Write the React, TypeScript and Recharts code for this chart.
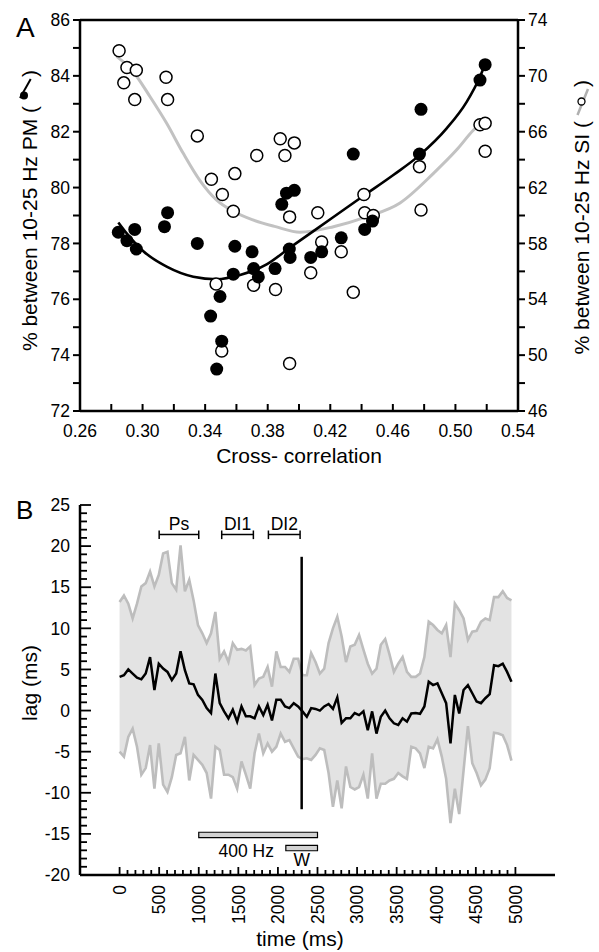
import React from 'react';
import {
  ComposedChart,
  XAxis,
  YAxis,
  Line,
  Scatter,
  Area,
  ReferenceLine,
  ReferenceArea,
  ReferenceDot,
} from 'recharts';

const FONT = '"Liberation Sans", Arial, Helvetica, sans-serif';

// ---------------- Panel A data ----------------
// PM (filled circles, left axis)
const pmCorr = [0.2845, 0.29, 0.295, 0.296, 0.314, 0.316, 0.335, 0.359, 0.358, 0.37, 0.371, 0.374, 0.3435, 0.3495, 0.3506, 0.3474, 0.3847, 0.389, 0.392, 0.397, 0.3938, 0.3943, 0.4075, 0.4145, 0.427, 0.442, 0.447, 0.478, 0.4347, 0.477, 0.5157, 0.519];
const pmPct = [78.4, 78.1, 78.5, 77.8, 78.6, 79.1, 78.0, 77.9, 76.9, 77.7, 77.1, 76.8, 75.4, 76.1, 74.5, 73.5, 77.1, 79.4, 79.8, 79.9, 77.8, 77.5, 77.5, 77.7, 78.2, 78.5, 78.8, 82.8, 81.2, 81.2, 83.85, 84.4];
// SI (open circles, right axis)
const siCorr = [0.285, 0.29, 0.296, 0.288, 0.295, 0.315, 0.316, 0.335, 0.344, 0.351, 0.359, 0.358, 0.373, 0.388, 0.391, 0.397, 0.394, 0.347, 0.3506, 0.371, 0.385, 0.394, 0.412, 0.4145, 0.4075, 0.427, 0.4347, 0.442, 0.4475, 0.478, 0.477, 0.4415, 0.5157, 0.519, 0.519];
const siPct = [71.8, 70.6, 70.4, 69.5, 68.3, 69.9, 68.3, 65.7, 62.6, 61.5, 63.0, 60.3, 64.3, 65.5, 64.3, 65.2, 59.9, 55.1, 50.3, 55.0, 54.7, 49.4, 60.2, 58.1, 55.9, 57.4, 54.5, 60.2, 60.0, 60.4, 63.5, 61.5, 66.5, 66.6, 64.6];
// fitted curves
const pmFitCorr = [0.2845, 0.29, 0.3005, 0.3154, 0.3324, 0.3474, 0.3623, 0.3793, 0.3942, 0.4209, 0.4411, 0.4603, 0.4773, 0.4944, 0.5072, 0.5157, 0.52];
const pmFitPct = [78.75, 78.35, 77.72, 77.17, 76.81, 76.72, 76.87, 77.25, 77.85, 78.9, 79.7, 80.45, 81.17, 82.12, 83.07, 83.97, 84.57];
const siFitCorr = [0.2834, 0.294, 0.3048, 0.3154, 0.326, 0.3367, 0.3474, 0.358, 0.37, 0.385, 0.4006, 0.422, 0.4432, 0.4646, 0.4858, 0.5008, 0.5114, 0.517];
const siFitPct = [71.4, 70.3, 68.5, 66.6, 64.45, 62.5, 61.1, 60.3, 59.7, 59.2, 58.8, 59.2, 59.9, 60.9, 63.0, 64.7, 66.1, 66.7];

const xTicksA = [0.26, 0.28, 0.3, 0.32, 0.34, 0.36, 0.38, 0.4, 0.42, 0.44, 0.46, 0.48, 0.5, 0.52, 0.54];
const yTicksLeftA = [72, 73, 74, 75, 76, 77, 78, 79, 80, 81, 82, 83, 84, 85, 86];
const yTicksRightA = [46, 48, 50, 52, 54, 56, 58, 60, 62, 64, 66, 68, 70, 72, 74];

// ---------------- Panel B data ----------------
const timeMs = [0, 55, 110, 165, 220, 275, 330, 385, 440, 495, 550, 605, 660, 715, 770, 825, 880, 935, 990, 1045, 1100, 1155, 1210, 1265, 1320, 1375, 1430, 1485, 1540, 1595, 1650, 1705, 1760, 1815, 1870, 1925, 1980, 2035, 2090, 2145, 2200, 2255, 2310, 2365, 2420, 2475, 2530, 2585, 2640, 2695, 2750, 2805, 2860, 2915, 2970, 3025, 3080, 3135, 3190, 3245, 3300, 3355, 3410, 3465, 3520, 3575, 3630, 3685, 3740, 3795, 3850, 3905, 3960, 4015, 4070, 4125, 4180, 4235, 4290, 4345, 4400, 4455, 4510, 4565, 4620, 4675, 4730, 4785, 4840, 4895, 4950];
const lagMean = [4.1, 4.3, 5.0, 4.5, 4.0, 3.8, 4.5, 6.5, 2.5, 5.7,
  5.1, 4.7, 3.7, 4.5, 7.2, 4.9, 3.3, 3.2, 1.9, 1.3,
  0.3, -0.3, 4.5, 0.9, -0.1, -0.95, 0.1, -1.35, 0.5, -0.7,
  -0.7, -0.95, 0.5, -0.55, 0.7, -1.2, 1.3, 1.3, 0.5, 0.3,
  0.9, 0.5, -0.1, -0.75, 0.3, 0.2, 0.0, 0.5, 0.8, 0.2,
  1.6, -1.5, -0.95, -0.95, -0.3, -0.55, -0.1, -2.4, -0.1, -2.8,
  -0.75, 0.0, -0.95, -1.55, -1.75, -0.95, -1.35, -0.35, -0.3, -0.4,
  0.5, 3.5, 3.1, 3.3, 2.1, 0.9, -4.0, 1.9, -0.35, 2.5,
  3.1, 2.1, 1.1, 0.9, 1.5, 2.0, 5.5, 5.4, 5.7, 4.7,
  3.5];
const lagUpper = [13.2, 14.0, 13.0, 11.2, 13.0, 15.1, 15.5, 16.9, 15.1, 16.5,
  19.1, 19.3, 15.5, 14.7, 20.1, 14.5, 15.9, 13.4, 10.4, 9.4,
  8.2, 9.4, 12.0, 6.3, 7.2, 5.9, 8.2, 7.4, 7.5, 7.3,
  7.8, 3.1, 3.9, 4.1, 5.3, 2.9, 7.2, 5.3, 5.3, 4.7,
  6.3, 6.3, 4.3, 4.3, 7.0, 5.9, 4.5, 5.1, 8.2, 10.0,
  11.4, 9.0, 5.9, 7.8, 8.0, 9.2, 7.4, 5.7, 4.5, 5.1,
  8.0, 8.7, 6.8, 4.7, 5.7, 6.5, 4.7, 4.1, 4.1, 4.5,
  6.5, 10.8, 10.4, 9.8, 9.4, 10.4, 6.5, 13.0, 12.2, 11.2,
  8.6, 9.6, 9.7, 10.8, 11.2, 11.0, 13.8, 13.8, 14.5, 13.7,
  13.4];
const lagLower = [-5.0, -5.6, -3.2, -2.2, -4.4, -7.8, -7.0, -4.2, -9.5, -4.0,
  -9.0, -9.9, -8.1, -5.4, -5.2, -3.2, -8.5, -5.4, -6.0, -6.6,
  -7.6, -10.7, -4.4, -4.8, -7.8, -7.8, -8.1, -9.5, -6.2, -7.8,
  -9.5, -5.2, -2.8, -5.2, -4.0, -5.0, -4.4, -2.8, -3.8, -3.6,
  -4.6, -5.6, -5.9, -5.8, -6.0, -5.4, -4.6, -4.8, -7.6, -11.7,
  -8.5, -11.9, -6.8, -9.3, -9.6, -9.3, -7.8, -10.7, -5.2, -10.7,
  -8.9, -8.9, -8.5, -8.3, -7.6, -8.0, -8.3, -4.4, -4.6, -5.2,
  -7.0, -4.4, -4.6, -3.5, -5.6, -8.3, -13.7, -9.5, -12.6, -7.3,
  -1.9, -6.4, -7.6, -9.1, -8.4, -7.0, -2.7, -2.8, -3.0, -4.2,
  -6.1];

const xMinorTicksB = Array.from({ length: 51 }, (_, i) => i * 100);
const yTicksB = Array.from({ length: 46 }, (_, i) => -20 + i);

// epoch markers (ms)
const brackets = [
  { name: 'Ps', from: 500, to: 1000 },
  { name: 'DI1', from: 1290, to: 1690 },
  { name: 'DI2', from: 1880, to: 2280 },
];
const bracketLevel = 21.4;
const stimulusTime = 2300;
const stimulusSpan = [-12, 18.7];
const bar400 = { from: 1000, to: 2500, lo: -15.45, hi: -14.8 };
const barW = { from: 2100, to: 2500, lo: -17.05, hi: -16.4 };

// ---------------- helpers ----------------
const pmPoints = pmCorr.map((x, i) => ({ x, y: pmPct[i] }));
const siPoints = siCorr.map((x, i) => ({ x, y: siPct[i] }));
const pmFit = pmFitCorr.map((x, i) => ({ x, y: pmFitPct[i] }));
const siFit = siFitCorr.map((x, i) => ({ x, y: siFitPct[i] }));
const lagData = timeMs.map((t, i) => ({
  t,
  mean: lagMean[i],
  hi: lagUpper[i],
  lo: lagLower[i],
  band: [lagLower[i], lagUpper[i]],
}));

const tickText = { fontSize: 17.5, fill: '#000', fontFamily: FONT };

function XTickA(p: any) {
  const { x, y, payload } = p;
  const v = payload.value as number;
  const lab = Math.round(v * 100) % 4 === 2;
  return (
    <g>
      <line x1={x} x2={x} y1={y} y2={y - 7} stroke="#000" strokeWidth={2} />
      {lab && (
        <text x={x} y={y + 25.5} textAnchor="middle" {...tickText}>
          {v.toFixed(2)}
        </text>
      )}
    </g>
  );
}
function YTickALeft(p: any) {
  const { x, y, payload } = p;
  const v = payload.value as number;
  const lab = v % 2 === 0;
  return (
    <g>
      <line x1={x} x2={x - 7} y1={y} y2={y} stroke="#000" strokeWidth={2} />
      {lab && (
        <text x={x - 10} y={y + 6.2} textAnchor="end" {...tickText}>
          {v}
        </text>
      )}
    </g>
  );
}
function YTickARight(p: any) {
  const { x, y, payload } = p;
  const v = payload.value as number;
  const lab = (v - 46) % 4 === 0;
  return (
    <g>
      <line x1={x} x2={x + 7} y1={y} y2={y} stroke="#000" strokeWidth={2} />
      {lab && (
        <text x={x + 10} y={y + 6.2} textAnchor="start" {...tickText}>
          {v}
        </text>
      )}
    </g>
  );
}
function XTickB(p: any) {
  const { x, y, payload } = p;
  const v = payload.value as number;
  const major = v % 500 === 0;
  const ty = y + 10;
  return (
    <g>
      <line x1={x} x2={x} y1={y} y2={y - (major ? 8 : 5)} stroke="#000" strokeWidth={1.8} />
      {major && (
        <text x={x} y={ty} transform={`rotate(-90 ${x} ${ty})`} textAnchor="end" dy="0.36em" {...tickText}>
          {v}
        </text>
      )}
    </g>
  );
}
function YTickB(p: any) {
  const { x, y, payload } = p;
  const v = payload.value as number;
  const major = v % 5 === 0;
  return (
    <g>
      <line x1={x} x2={x + (major ? 11 : 7)} y1={y} y2={y} stroke="#000" strokeWidth={1.8} />
      {major && (
        <text x={x - 10} y={y + 6.2} textAnchor="end" {...tickText}>
          {v}
        </text>
      )}
    </g>
  );
}

const filledDot = (p: any) => <circle cx={p.cx} cy={p.cy} r={6.5} fill="#000" />;
const openDot = (p: any) => <circle cx={p.cx} cy={p.cy} r={6} fill="#fff" stroke="#000" strokeWidth={1.5} />;

const labelStyle = { fontSize: 17.5, fill: '#000', fontFamily: FONT };

export default function App() {
  return (
    <div style={{ position: 'absolute', left: 0, top: 0, width: 599, height: 952, background: '#fff', fontFamily: FONT }}>
      <div style={{ position: 'absolute', left: 0, top: 0 }}>
        <ComposedChart width={599} height={480} margin={{ top: 20, right: 21, bottom: 29, left: 20 }}>
          <XAxis
            type="number"
            dataKey="x"
            domain={[0.26, 0.54]}
            allowDataOverflow
            ticks={xTicksA}
            interval={0}
            tick={XTickA}
            tickLine={false}
            tickSize={0}
            tickMargin={0}
            axisLine={{ stroke: '#000', strokeWidth: 2.5 }}
            height={40}
          />
          <YAxis
            yAxisId="l"
            type="number"
            dataKey="y"
            domain={[72, 86]}
            allowDataOverflow
            ticks={yTicksLeftA}
            interval={0}
            tick={YTickALeft}
            tickLine={false}
            tickSize={0}
            tickMargin={0}
            axisLine={{ stroke: '#000', strokeWidth: 2.5 }}
            width={60}
          />
          <YAxis
            yAxisId="r"
            orientation="right"
            type="number"
            dataKey="y"
            domain={[46, 74]}
            allowDataOverflow
            ticks={yTicksRightA}
            interval={0}
            tick={YTickARight}
            tickLine={false}
            tickSize={0}
            tickMargin={0}
            axisLine={{ stroke: '#000', strokeWidth: 2.5 }}
            width={60}
          />
          <ReferenceLine yAxisId="l" y={86} stroke="#000" strokeWidth={2.5} />
          <Line
            yAxisId="r"
            data={siFit}
            dataKey="y"
            type="monotone"
            stroke="#c2c2c2"
            strokeWidth={3}
            dot={false}
            activeDot={false}
            isAnimationActive={false}
          />
          <Line
            yAxisId="l"
            data={pmFit}
            dataKey="y"
            type="monotone"
            stroke="#000"
            strokeWidth={2.6}
            dot={false}
            activeDot={false}
            isAnimationActive={false}
          />
          <Scatter yAxisId="r" data={siPoints} dataKey="y" shape={openDot} isAnimationActive={false} />
          <Scatter yAxisId="l" data={pmPoints} dataKey="y" shape={filledDot} isAnimationActive={false} />
        </ComposedChart>
      </div>

      <div style={{ position: 'absolute', left: 0, top: 480 }}>
        <ComposedChart width={599} height={472} data={lagData} margin={{ top: 25, right: 44, bottom: 27, left: 20 }}>
          <XAxis
            type="number"
            dataKey="t"
            domain={[-500, 5500]}
            allowDataOverflow
            ticks={xMinorTicksB}
            interval={0}
            tick={XTickB}
            tickLine={false}
            tickSize={0}
            tickMargin={0}
            axisLine={{ stroke: '#000', strokeWidth: 2.5 }}
            height={50}
          />
          <YAxis
            type="number"
            domain={[-20, 25]}
            allowDataOverflow
            ticks={yTicksB}
            interval={0}
            tick={YTickB}
            tickLine={false}
            tickSize={0}
            tickMargin={0}
            axisLine={{ stroke: '#000', strokeWidth: 2.5 }}
            width={60}
          />
          <Area dataKey="band" type="linear" stroke="none" fill="#e3e3e3" fillOpacity={1} isAnimationActive={false} activeDot={false} />
          <Line dataKey="hi" type="linear" stroke="#bdbdbd" strokeWidth={2.6} dot={false} activeDot={false} isAnimationActive={false} />
          <Line dataKey="lo" type="linear" stroke="#bdbdbd" strokeWidth={2.6} dot={false} activeDot={false} isAnimationActive={false} />
          <Line dataKey="mean" type="linear" stroke="#000" strokeWidth={2.5} dot={false} activeDot={false} isAnimationActive={false} />
          <ReferenceLine
            segment={[{ x: stimulusTime, y: stimulusSpan[0] }, { x: stimulusTime, y: stimulusSpan[1] }]}
            stroke="#000"
            strokeWidth={2.5}
          />
          {brackets.map((b) => (
            <ReferenceLine
              key={b.name + 'h'}
              segment={[{ x: b.from, y: bracketLevel }, { x: b.to, y: bracketLevel }]}
              stroke="#000"
              strokeWidth={1.5}
            />
          ))}
          {brackets.map((b) => (
            <ReferenceLine
              key={b.name + 'l'}
              segment={[{ x: b.from, y: bracketLevel - 0.55 }, { x: b.from, y: bracketLevel + 0.5 }]}
              stroke="#000"
              strokeWidth={1.5}
            />
          ))}
          {brackets.map((b) => (
            <ReferenceLine
              key={b.name + 'r'}
              segment={[{ x: b.to, y: bracketLevel - 0.55 }, { x: b.to, y: bracketLevel + 0.5 }]}
              stroke="#000"
              strokeWidth={1.5}
            />
          ))}
          {brackets.map((b) => (
            <ReferenceDot
              key={b.name + 't'}
              x={(b.from + b.to) / 2}
              y={bracketLevel}
              r={0}
              fill="none"
              stroke="none"
              label={{ value: b.name, position: 'top', offset: 5, ...labelStyle }}
            />
          ))}
          <ReferenceArea
            x1={bar400.from}
            x2={bar400.to}
            y1={bar400.lo}
            y2={bar400.hi}
            fill="#d2d2d2"
            fillOpacity={1}
            stroke="#000"
            strokeWidth={1.2}
          />
          <ReferenceArea
            x1={barW.from}
            x2={barW.to}
            y1={barW.lo}
            y2={barW.hi}
            fill="#d2d2d2"
            fillOpacity={1}
            stroke="#000"
            strokeWidth={1.2}
          />
          <ReferenceDot
            x={1600}
            y={-17}
            r={0}
            fill="none"
            stroke="none"
            label={{ value: '400 Hz', position: 'center', ...labelStyle }}
          />
          <ReferenceDot
            x={2300}
            y={-18.1}
            r={0}
            fill="none"
            stroke="none"
            label={{ value: 'W', position: 'center', ...labelStyle }}
          />
        </ComposedChart>
      </div>

      <svg
        width={599}
        height={952}
        style={{ position: 'absolute', left: 0, top: 0, pointerEvents: 'none', fontFamily: FONT }}
      >
        <text x={16} y={36.5} fontSize={28} fill="#000">A</text>
        <text x={16} y={518.5} fontSize={26} fill="#000">B</text>

        <text x={299} y={463} fontSize={21} textAnchor="middle" fill="#000">Cross- correlation</text>

        {/* left axis title, panel A */}
        <text transform="translate(37,106) rotate(-90)" fontSize={21} textAnchor="end" fill="#000">% between 10-25 Hz PM (</text>
        <line x1={30.7} y1={79} x2={20} y2={98} stroke="#000" strokeWidth={2} />
        <circle cx={24} cy={95.5} r={4} fill="#000" />
        <text transform="translate(37,77) rotate(-90)" fontSize={21} textAnchor="start" fill="#000">)</text>

        {/* right axis title, panel A */}
        <text transform="translate(589,121) rotate(-90)" fontSize={21} textAnchor="end" fill="#000">% between 10-25 Hz SI (</text>
        <line x1={588} y1={89} x2={577.5} y2={115} stroke="#b0b0b0" strokeWidth={2.5} />
        <circle cx={581.5} cy={101.5} r={3.5} fill="#fff" stroke="#000" strokeWidth={1.3} />
        <text transform="translate(589,87) rotate(-90)" fontSize={21} textAnchor="start" fill="#000">)</text>

        <text transform="translate(37,683) rotate(-90)" fontSize={21} textAnchor="middle" fill="#000">lag (ms)</text>
        <text x={300} y={946} fontSize={21} textAnchor="middle" fill="#000">time (ms)</text>
      </svg>
    </div>
  );
}
